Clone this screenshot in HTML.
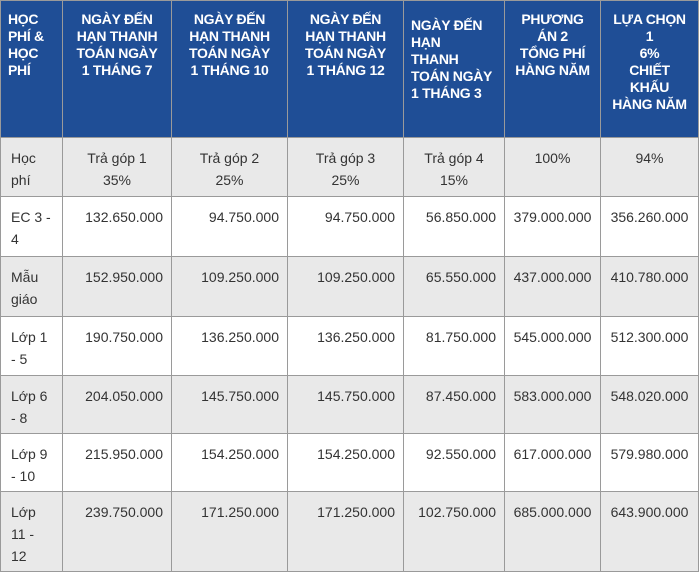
<!DOCTYPE html>
<html><head><meta charset="utf-8"><style>
body{margin:0;width:700px;height:569px;overflow:hidden;background:#fff;font-family:"Liberation Sans",sans-serif;}
table{border-collapse:collapse;table-layout:fixed;position:absolute;left:0;top:0;width:698px;}
td,th{border:1px solid #9a9a9a;vertical-align:top;padding:0;box-sizing:border-box;}
th{background:#1f4e96;color:#fff;font-weight:bold;font-size:14px;line-height:17px;padding:10px 4px 0;text-align:center;letter-spacing:-0.3px;height:137px;border-color:#9a9a9a;}
th.l{text-align:left;padding-left:7px;}
td{font-size:14px;line-height:22px;color:#333;padding:9px 8px 0;}
td.r{text-align:right;}
td.c{text-align:center;}
tr.g td{background:#e9e9e9;}
td.n{padding-left:10px;}
</style></head><body>
<table>
<colgroup><col style="width:62px"><col style="width:109px"><col style="width:116px"><col style="width:116px"><col style="width:101px"><col style="width:96px"><col style="width:98px"></colgroup>
<tr><th class="l">HỌC<br>PHÍ &amp;<br>HỌC<br>PHÍ</th><th>NGÀY ĐẾN<br>HẠN THANH<br>TOÁN NGÀY<br>1 THÁNG 7</th><th>NGÀY ĐẾN<br>HẠN THANH<br>TOÁN NGÀY<br>1 THÁNG 10</th><th>NGÀY ĐẾN<br>HẠN THANH<br>TOÁN NGÀY<br>1 THÁNG 12</th><th class="l" style="padding-top:16px">NGÀY ĐẾN<br>HẠN<br>THANH<br>TOÁN NGÀY<br>1 THÁNG 3</th><th>PHƯƠNG<br>ÁN 2<br>TỔNG PHÍ<br>HÀNG NĂM</th><th>LỰA CHỌN<br>1<br>6%<br>CHIẾT<br>KHẤU<br>HÀNG NĂM</th></tr>
<tr class="g" style="height:59px"><td class="n">Học<br>phí</td><td class="c">Trả góp 1<br>35%</td><td class="c">Trả góp 2<br>25%</td><td class="c">Trả góp 3<br>25%</td><td class="c">Trả góp 4<br>15%</td><td class="c">100%</td><td class="c">94%</td></tr>
<tr style="height:60px"><td class="n">EC 3 -<br>4</td><td class="r">132.650.000</td><td class="r">94.750.000</td><td class="r">94.750.000</td><td class="r">56.850.000</td><td class="c" style="padding:9px 0 0">379.000.000</td><td class="c" style="padding:9px 0 0">356.260.000</td></tr>
<tr class="g" style="height:60px"><td class="n">Mẫu<br>giáo</td><td class="r">152.950.000</td><td class="r">109.250.000</td><td class="r">109.250.000</td><td class="r">65.550.000</td><td class="c" style="padding:9px 0 0">437.000.000</td><td class="c" style="padding:9px 0 0">410.780.000</td></tr>
<tr style="height:59px"><td class="n">Lớp 1<br>- 5</td><td class="r">190.750.000</td><td class="r">136.250.000</td><td class="r">136.250.000</td><td class="r">81.750.000</td><td class="c" style="padding:9px 0 0">545.000.000</td><td class="c" style="padding:9px 0 0">512.300.000</td></tr>
<tr class="g" style="height:58px"><td class="n">Lớp 6<br>- 8</td><td class="r">204.050.000</td><td class="r">145.750.000</td><td class="r">145.750.000</td><td class="r">87.450.000</td><td class="c" style="padding:9px 0 0">583.000.000</td><td class="c" style="padding:9px 0 0">548.020.000</td></tr>
<tr style="height:58px"><td class="n">Lớp 9<br>- 10</td><td class="r">215.950.000</td><td class="r">154.250.000</td><td class="r">154.250.000</td><td class="r">92.550.000</td><td class="c" style="padding:9px 0 0">617.000.000</td><td class="c" style="padding:9px 0 0">579.980.000</td></tr>
<tr class="g" style="height:80px"><td class="n">Lớp<br>11 -<br>12</td><td class="r">239.750.000</td><td class="r">171.250.000</td><td class="r">171.250.000</td><td class="r">102.750.000</td><td class="c" style="padding:9px 0 0">685.000.000</td><td class="c" style="padding:9px 0 0">643.900.000</td></tr>
</table>
</body></html>
